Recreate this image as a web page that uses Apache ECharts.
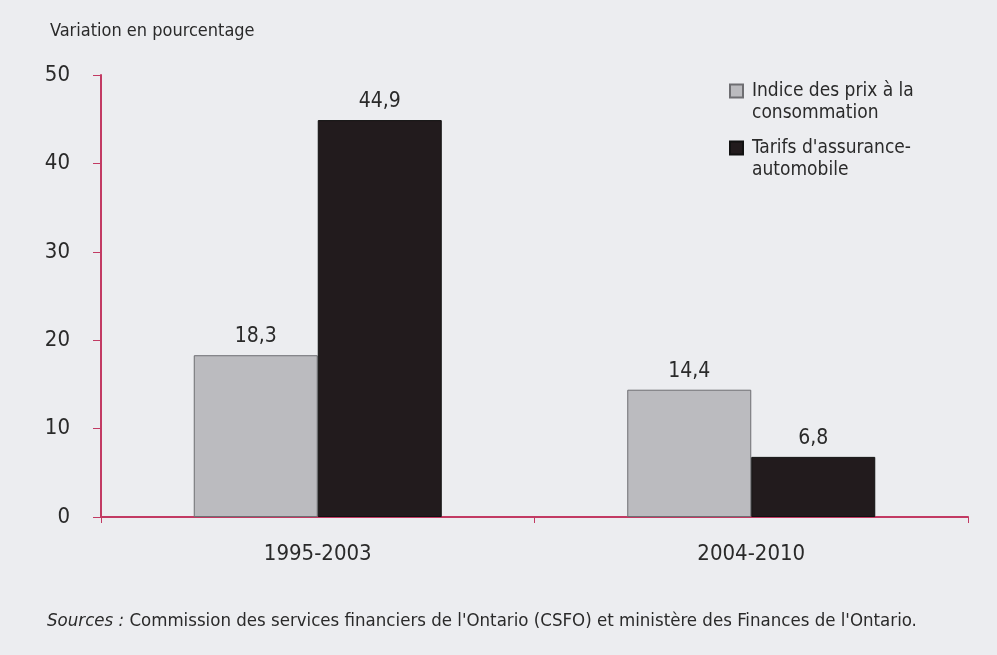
<!DOCTYPE html>
<html>
<head>
<meta charset="utf-8">
<script src="https://cdn.jsdelivr.net/npm/echarts@6/dist/echarts.min.js"></script>
<style>
  html, body { margin: 0; padding: 0; background: #ecedf0; }
  #chart { width: 997px; height: 655px; }
</style>
</head>
<body>
<div id="chart"></div>
<script>
const periods = ['1995-2003', '2004-2010'];
const ipcValues = [18.3, 14.4];
const autoValues = [44.9, 6.8];
const seriesNames = ['Indice des prix à la\nconsommation', "Tarifs d'assurance-\nautomobile"];

const FONT = "'Liberation Sans Narrow', 'DejaVu Sans Condensed', 'Roboto Condensed', sans-serif";
const AXIS = '#c23a63';

const myChart = echarts.init(document.getElementById('chart'));

const labelFmt = (p) => String(p.value).replace('.', ',');

// blank first line so the icon sits on the first text line
const legendBase = {
  orient: 'vertical',
  left: 729,
  padding: 0,
  itemWidth: 13,
  itemHeight: 13,
  selectedMode: false,
  formatter: (name) => ' \n' + name,
  textStyle: {
    fontFamily: FONT, fontSize: 19, color: '#2a2a2a', lineHeight: 22,
    padding: [0, 0, 0, 4]
  }
};

const option = {
  backgroundColor: '#ecedf0',
  textStyle: { fontFamily: FONT },
  title: {
    text: 'Variation en pourcentage',
    left: 45, top: 17,
    textStyle: { fontFamily: FONT, fontSize: 18, fontWeight: 'normal', color: '#2a2a2a' }
  },
  legend: [
    Object.assign({}, legendBase, { top: 58, data: [{ name: seriesNames[0], icon: 'rect' }] }),
    Object.assign({}, legendBase, { top: 115, data: [{ name: seriesNames[1], icon: 'rect' }] })
  ],
  grid: { left: 101, right: 29, top: 75, bottom: 138 },
  xAxis: {
    type: 'category',
    data: periods,
    axisLine: { lineStyle: { color: AXIS, width: 2 } },
    axisTick: { show: true, length: 6, lineStyle: { color: AXIS } },
    axisLabel: { fontFamily: FONT, fontSize: 22, color: '#2a2a2a', margin: 26 }
  },
  yAxis: {
    type: 'value',
    min: 0, max: 50, interval: 10,
    axisLine: { show: true, lineStyle: { color: AXIS, width: 2 } },
    axisTick: { show: true, length: 8, lineStyle: { color: AXIS } },
    splitLine: { show: false },
    axisLabel: { fontFamily: FONT, fontSize: 22, color: '#2a2a2a', margin: 31 }
  },
  series: [
    {
      name: seriesNames[0],
      type: 'bar',
      data: ipcValues,
      barWidth: 124,
      barGap: '0%',
      itemStyle: { color: '#bbbbbf', borderColor: '#6e6e72', borderWidth: 1 },
      label: { show: true, position: 'top', distance: 8, formatter: labelFmt,
        fontFamily: FONT, fontSize: 21, color: '#2a2a2a' }
    },
    {
      name: seriesNames[1],
      type: 'bar',
      data: autoValues,
      barWidth: 124,
      barGap: '0%',
      itemStyle: { color: '#221b1d', borderColor: '#111', borderWidth: 1 },
      label: { show: true, position: 'top', distance: 8, formatter: labelFmt,
        fontFamily: FONT, fontSize: 21, color: '#2a2a2a' }
    }
  ],
  graphic: [
    {
      type: 'text',
      left: 47, top: 612,
      style: {
        text: '{i|Sources :} Commission des services financiers de l\'Ontario (CSFO) et ministère des Finances de l\'Ontario.',
        font: '18.5px ' + FONT,
        fill: '#2a2a2a',
        rich: {
          i: { fontStyle: 'italic', fontFamily: FONT, fontSize: 18.5, fill: '#2a2a2a' }
        }
      }
    }
  ]
};

option && myChart.setOption(option);
</script>
</body>
</html>
